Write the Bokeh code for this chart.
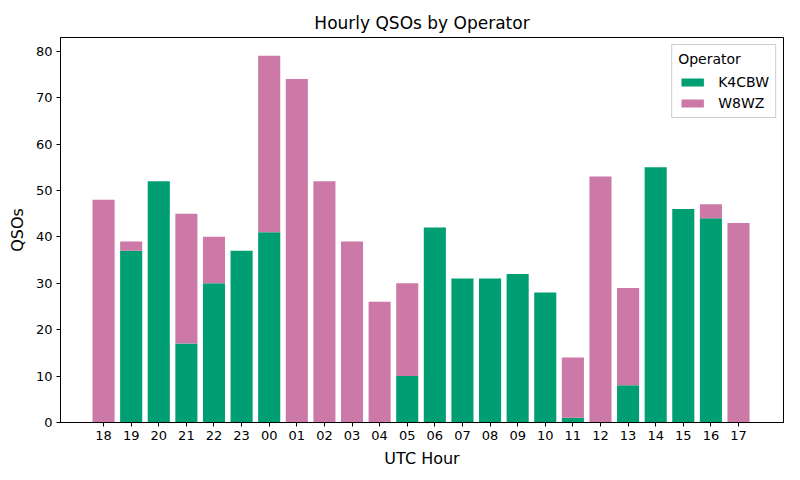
from bokeh.plotting import figure
from bokeh.models import ColumnDataSource, FixedTicker, Range1d, Legend, LegendItem
from bokeh.embed import file_html
from bokeh.resources import INLINE

hours = ["18", "19", "20", "21", "22", "23", "00", "01", "02", "03", "04", "05",
         "06", "07", "08", "09", "10", "11", "12", "13", "14", "15", "16", "17"]
k4cbw = [0, 37, 52, 17, 30, 37, 41, 0, 0, 0, 0, 10,
         42, 31, 31, 32, 28, 1, 0, 8, 55, 46, 44, 0]
w8wz = [48, 2, 0, 28, 10, 0, 38, 74, 52, 39, 26, 20,
        0, 0, 0, 0, 0, 13, 53, 21, 0, 0, 3, 43]

GREEN = "#009E73"
PINK = "#CC79A7"
FONT = "DejaVu Sans"

xs = list(range(len(hours)))
source = ColumnDataSource(data=dict(x=xs, K4CBW=k4cbw, W8WZ=w8wz))

p = figure(frame_width=723, frame_height=385, output_backend="svg", toolbar_location=None,
           x_range=Range1d(-1.56, 24.63), y_range=Range1d(0, 82.95),
           min_border_left=60, min_border_right=7, min_border_top=37,
           min_border_bottom=50)

renderers = p.vbar_stack(["K4CBW", "W8WZ"], x="x", width=0.8, source=source,
                         color=[GREEN, PINK], line_color=None)

p.title.text = "Hourly QSOs by Operator"
p.title.align = "center"
p.title.text_font = FONT
p.title.text_font_size = "17px"
p.title.text_font_style = "normal"
p.title.text_color = "black"
p.title.offset = 0

p.xaxis.ticker = FixedTicker(ticks=xs)
p.xaxis.major_label_overrides = {i: h for i, h in enumerate(hours)}
p.yaxis.ticker = FixedTicker(ticks=[0, 10, 20, 30, 40, 50, 60, 70, 80])
p.xaxis.axis_label = "UTC Hour"
p.yaxis.axis_label = "QSOs"

for ax in (p.xaxis[0], p.yaxis[0]):
    ax.axis_label_text_font = FONT
    ax.axis_label_text_font_size = "16px"
    ax.axis_label_text_font_style = "normal"
    ax.axis_label_text_color = "black"
    ax.major_label_text_font = FONT
    ax.major_label_text_font_size = "13px"
    ax.major_label_text_color = "black"
    ax.axis_line_color = "black"
    ax.major_tick_line_color = "black"
    ax.major_tick_out = 4
    ax.major_tick_in = 0
    ax.minor_tick_line_color = None
    ax.axis_label_standoff = 6
    ax.major_label_standoff = 4

p.xgrid.grid_line_color = None
p.ygrid.grid_line_color = None
p.outline_line_color = "black"
p.outline_line_alpha = 1.0

legend = Legend(items=[LegendItem(label="K4CBW", renderers=[renderers[0]]),
                       LegendItem(label="W8WZ", renderers=[renderers[1]])],
                location="top_right")
legend.title = "Operator"
legend.title_text_font = FONT
legend.title_text_font_size = "14px"
legend.title_text_font_style = "normal"
legend.title_text_color = "black"
legend.title_standoff = 6
legend.label_text_font = FONT
legend.label_text_font_size = "14px"
legend.label_text_color = "black"
legend.glyph_width = 28
legend.glyph_height = 10
legend.label_height = 17
legend.border_line_color = "#cccccc"
legend.border_line_alpha = 1.0
legend.background_fill_alpha = 0.8
legend.margin = 7
legend.padding = 6
legend.spacing = 4
legend.label_standoff = 12
p.add_layout(legend)

open("out.html", "w").write(file_html(p, INLINE))
